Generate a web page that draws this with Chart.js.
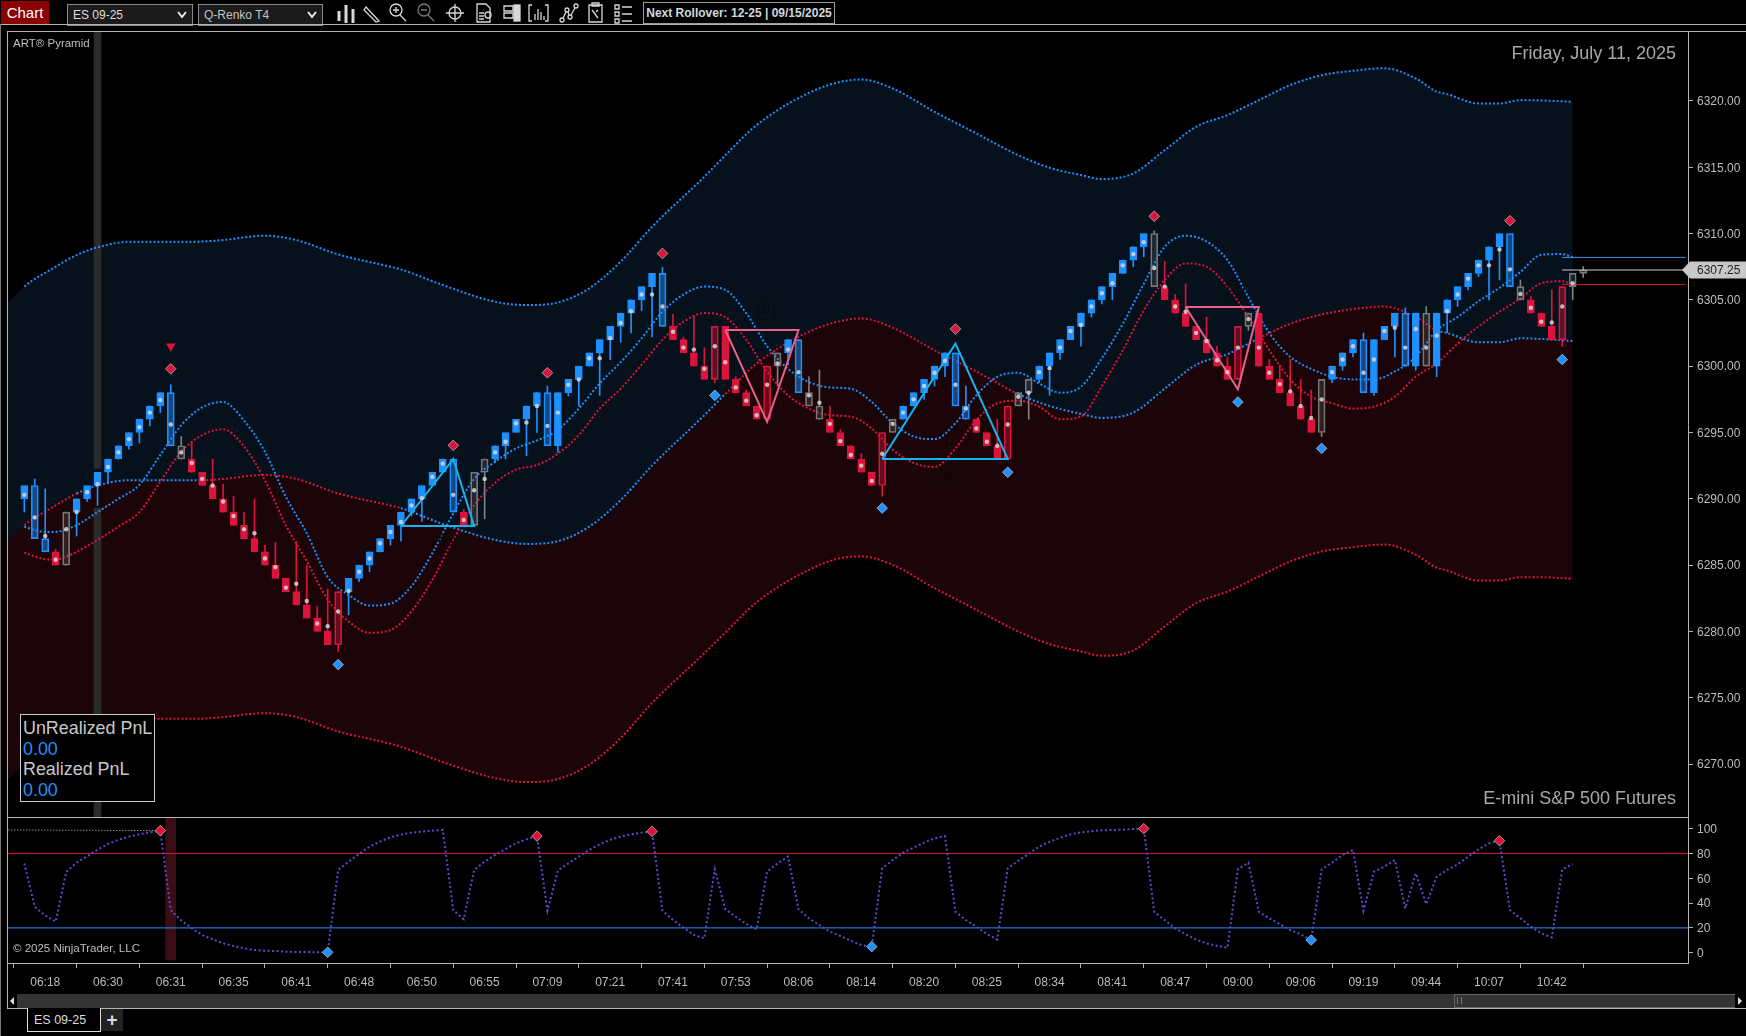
<!DOCTYPE html>
<html>
<head>
<meta charset="utf-8">
<title>ES 09-25</title>
<script src="https://cdn.jsdelivr.net/npm/chart.js@4/dist/chart.umd.js"></script>
<style>
  html, body { margin: 0; padding: 0; background: #000; width: 1746px; height: 1036px; overflow: hidden; }
  body, div { font-family: "Liberation Sans", Arial, sans-serif; color: #c4c4c4; }
  .abs { position: absolute; white-space: nowrap; }
  canvas { position: absolute; left: 0; display: block; }
  .line { position: absolute; background: #b4b4b4; }
  .combo { position: absolute; top: 4px; height: 20px; width: 123px; background: #1b1b1b; border: 1px solid #8a8a8a; font-size: 12px; line-height: 20px; padding-left: 5px; box-sizing: content-box; }
  .combo svg { position: absolute; right: 5px; top: 6px; }
</style>
</head>
<body>

<!-- toolbar -->
<div class="abs" style="left:1px;top:1px;width:48px;height:23px;background:#8b0000;color:#fff;font-size:15px;line-height:23px;text-align:center">Chart</div>
<div class="combo" style="left:67px;width:119px;color:#ddd">ES 09-25<svg width="10" height="8"><path d="M1 1 L5 6 L9 1" fill="none" stroke="#eee" stroke-width="2"/></svg></div>
<div class="combo" style="left:198px;width:118px">Q-Renko T4<svg width="10" height="8"><path d="M1 1 L5 6 L9 1" fill="none" stroke="#eee" stroke-width="2"/></svg></div>
<svg class="abs" style="left:330px;top:0" width="310" height="26" fill="none" stroke="#d8d8d8" stroke-width="1.3">
  <path d="M9 11v10M16 5v18M23 9v14" stroke-width="3"/>
  <path d="M36 7 L49 21 L46 22 L34 10 Z"/>
  <circle cx="66" cy="10" r="6"/><path d="M63 10h6M66 7v6M70 15l6 6"/>
  <g stroke="#777"><circle cx="94" cy="10" r="6"/><path d="M91 10h6M98 15l6 6"/></g>
  <circle cx="125" cy="13" r="6"/><path d="M125 4v18M116 13h18"/>
  <path d="M147 4h9l4 4v14h-13z M149 13h5M149 16h5M149 19h5"/><circle cx="158" cy="15" r="3"/>
  <path d="M174 6h9v5h-9zM174 13h9v5h-9z"/><rect x="184" y="5" width="6" height="16" fill="#d8d8d8"/>
  <path d="M202 5h-3v16h3M215 5h3v16h-3M205 20v-6M208 20v-11M211 20v-8M214 20v-4"/>
  <circle cx="232" cy="20" r="2"/><circle cx="237" cy="10" r="2"/><circle cx="240" cy="17" r="2"/><circle cx="246" cy="6" r="2"/><path d="M233 18l3-6M238 12l1 3M241 15l4-7"/>
  <path d="M259 5h13v17h-13zM262 3h7v3h-7zM262 10l6 8M268 10l-2 2"/>
  <path d="M285 5h4v4h-4zM285 12h4v4h-4zM285 19h4v4h-4zM292 7h10M292 14h10M292 21h10"/>
</svg>
<div class="abs" style="left:643px;top:2px;width:190px;height:20px;border:1px solid #9a9a9a;font-size:12px;font-weight:bold;line-height:20px;text-align:center;color:#cfd8dc">Next Rollover: 12-25 | 09/15/2025</div>
<div class="line" style="left:0;top:24px;width:1746px;height:1px"></div>
<div class="line" style="left:0;top:24px;width:1px;height:1012px;background:#777"></div>

<!-- charts -->
<canvas id="priceChart" width="1746" height="786" style="top:31px"></canvas>
<canvas id="oscChart" width="1746" height="177" style="top:817px"></canvas>

<!-- frame -->
<div class="line" style="left:7px;top:31px;width:1739px;height:1px"></div>
<div class="line" style="left:7px;top:31px;width:1px;height:977px"></div>
<div class="line" style="left:7px;top:817px;width:1682px;height:1px"></div>
<div class="line" style="left:7px;top:963px;width:1682px;height:1px"></div>

<!-- text on the price panel -->
<div class="abs" style="left:13px;top:37px;font-size:11.5px;color:#bdbdbd">ART® Pyramid</div>
<div class="abs" style="right:70px;top:43px;font-size:18px;color:#a8a8a8">Friday, July 11, 2025</div>
<div class="abs" style="right:70px;top:788px;font-size:18px;color:#a8a8a8">E-mini S&amp;P 500 Futures</div>
<div class="abs" style="left:20px;top:714px;width:131px;background:#000;border:1px solid #ccc;font-size:17.9px;line-height:20.6px;padding-left:2px;padding-top:3px;box-sizing:content-box;height:83px">
  <div style="color:#c8c8c8">UnRealized PnL</div>
  <div style="color:#1e90ff">0.00</div>
  <div style="color:#c8c8c8">Realized PnL</div>
  <div style="color:#1e90ff">0.00</div>
</div>
<div class="abs" style="left:13px;top:942px;font-size:11.5px;color:#bdbdbd">© 2025 NinjaTrader, LLC</div>

<!-- scrollbar and tabs -->
<div class="abs" style="left:8px;top:994px;width:1738px;height:14px;background:#333"></div>
<div class="abs" style="left:8px;top:994px;width:9px;height:14px;background:#000"></div>
<svg class="abs" style="left:10px;top:997px" width="6" height="8"><path d="M4 0L0 4L4 8Z" fill="#ddd"/></svg>
<div class="abs" style="left:1454px;top:994px;width:280px;height:12px;background:#333;border:1px solid #666"></div>
<div class="abs" style="left:1457px;top:997px;width:3px;height:7px;border-left:1px solid #777;border-right:1px solid #777"></div>
<div class="abs" style="left:1735px;top:994px;width:11px;height:14px;background:#000"></div>
<svg class="abs" style="left:1737px;top:997px" width="6" height="8"><path d="M1 0L5 4L1 8Z" fill="#ddd"/></svg>
<div class="line" style="left:7px;top:1008px;width:1739px;height:1px"></div>
<div class="abs" style="left:27px;top:1008px;width:66px;height:23px;background:#000;border:1px solid #ddd;border-top:none;font-size:12.5px;line-height:24px;padding-left:6px;color:#ddd">ES 09-25</div>
<div class="abs" style="left:101px;top:1009px;width:22px;height:22px;background:#222;color:#ddd;font-size:19px;font-weight:bold;line-height:21px;text-align:center">+</div>

<script>
// candles, one entry per brick, prices
const barTop = [
  6291,6291,6287,6286,6289,6290,6291,6292,6293,6294,
  6295,6296,6297,6298,6298,6294,6293,6292,6291,6290,
  6289,6288,6287,6286,6285,6284,6283,6282,6281,6280,
  6283,6284,6285,6286,6287,6288,6289,6290,6291,6292,
  6293,6293,6289,6292,6293,6294,6295,6296,6297,6298,
  6298,6298,6299,6300,6301,6302,6303,6304,6305,6306,
  6307,6307,6303,6302,6301,6300,6303,6303,6299,6298,
  6297,6300,6301,6302,6302,6298,6297,6296,6295,6294,
  6293,6292,6295,6296,6297,6298,6299,6300,6301,6301,
  6297,6296,6295,6294,6297,6298,6299,6300,6301,6302,
  6303,6304,6305,6306,6307,6308,6309,6310,6310,6306,
  6305,6304,6303,6302,6301,6300,6303,6304,6304,6300,
  6299,6298,6297,6296,6299,6300,6301,6302,6302,6302,
  6303,6304,6304,6304,6304,6304,6305,6306,6307,6308,
  6309,6310,6310,6306,6305,6304,6303,6306,6307,6307.25
];
const barBottom = [
  6290,6287,6286,6285,6285,6289,6290,6291,6292,6293,
  6294,6295,6296,6297,6294,6293,6292,6291,6290,6289,
  6288,6287,6286,6285,6284,6283,6282,6281,6280,6279,
  6279,6283,6284,6285,6286,6287,6288,6289,6290,6291,
  6292,6289,6288,6288,6292,6293,6294,6295,6296,6297,
  6294,6294,6298,6299,6300,6301,6302,6303,6304,6305,
  6306,6303,6302,6301,6300,6299,6299,6299,6298,6297,
  6296,6296,6300,6301,6298,6297,6296,6295,6294,6293,
  6292,6291,6291,6295,6296,6297,6298,6299,6300,6297,
  6296,6295,6294,6293,6293,6297,6298,6299,6300,6301,
  6302,6303,6304,6305,6306,6307,6308,6309,6306,6305,
  6304,6303,6302,6301,6300,6299,6299,6303,6300,6299,
  6298,6297,6296,6295,6295,6299,6300,6301,6298,6298,
  6302,6303,6300,6300,6300,6300,6304,6305,6306,6307,
  6308,6309,6306,6305,6304,6303,6302,6302,6306,6307
];
const wickHigh = [
  6291,6291.5,6290.75,6286.2,6289,6290,6291,6292,6293,6294,
  6295,6296,6297,6298,6298.6,6294.7,6294.3,6292,6293,6291.1,
  6290.2,6289,6290,6286.5,6286.7,6284,6286.8,6285,6281.9,6283.2,
  6283,6284,6285,6286,6287,6288,6289,6290,6291,6292,
  6293,6293,6289.2,6292,6293,6294,6295,6296,6297,6298,
  6298.5,6298,6299,6300,6301,6302,6303,6304,6305,6306,
  6307,6307.45,6303.9,6302.2,6303.8,6301.4,6303,6303,6299.2,6298.2,
  6297,6300,6301,6302,6302,6299.2,6299.7,6297,6295.2,6294,
  6293.4,6292,6295,6296,6297,6298,6299,6300,6301,6301,
  6298.5,6296,6295,6296,6297,6298,6299,6300,6301,6302,
  6303,6304,6305,6306,6307,6308,6309,6310,6310.2,6307.9,
  6305.4,6306.2,6303,6303.7,6301.5,6300.7,6303,6304,6304,6300.5,
  6300.1,6300.5,6299,6298.2,6299,6300,6301,6302,6302.5,6302,
  6303,6304,6304.4,6304,6304.5,6304,6305,6306,6307,6308,
  6309,6310,6310,6306.5,6305.25,6304,6305.75,6306,6307,6307.5
];
const wickLow = [
  6289,6287,6286,6285,6285,6287.2,6289.8,6289.5,6291.2,6293,
  6293.75,6294.2,6295.5,6296.5,6294,6293,6292,6291,6290,6289,
  6288,6287,6286,6285,6284,6283,6282,6281,6280,6279,
  6278.5,6281.25,6283.75,6284.5,6286,6286.5,6286.8,6288.7,6288.3,6291,
  6292,6289,6288,6288,6288.5,6292.75,6293,6295,6293.25,6295,
  6294,6293.5,6297.75,6297,6300,6297.8,6300.5,6301.8,6302.5,6304.2,
  6302.2,6303,6302,6301,6300,6299,6298.75,6299,6298,6297,
  6296,6296,6298.5,6300.1,6298,6297,6296,6295,6294,6293,
  6292,6291,6290.2,6295,6296,6297,6297.5,6298.5,6299.2,6297,
  6296,6295,6294,6293,6293,6297,6296,6298.75,6297.8,6300.5,
  6302,6301.5,6303.7,6304.7,6305,6307,6307.5,6308.25,6306,6305,
  6304,6303,6302,6301,6300,6299,6299,6302.7,6300,6299,
  6298,6297,6296,6295,6294.7,6298.75,6299.7,6300.7,6298,6297.8,
  6302,6300.7,6300,6299.7,6300,6299.2,6302.5,6304.5,6305.75,6306.75,
  6305,6306.5,6306,6305,6304,6303,6302,6301.5,6305,6306.7
];
// small white marker on each brick
const dotPrice = [
  6290.3,6288.6,6287.2,6285.4,6287.7,6289,6290.5,6291.1,6292.4,6293.5,
  6294.5,6295.4,6296.5,6297.45,6295.6,6293.5,6292.7,6291.5,6291,6289.8,
  6288.7,6287.7,6287.4,6285.5,6284.85,6283.3,6283.6,6282.3,6280.6,6280.4,
  6281.5,6283.05,6284.5,6285.5,6286.65,6287.5,6288.25,6289.5,6290.05,6291.65,
  6292.65,6290.3,6288.4,6290.65,6291.5,6293.5,6294.3,6295.7,6295.75,6297,
  6295.5,6296.5,6298.6,6299,6300.6,6300.6,6302.1,6303.25,6304.15,6305.4,
  6305.4,6304.5,6302.6,6301.4,6301.25,6299.8,6301.5,6300.3,6298.4,6297.4,
  6296.3,6298.6,6300.2,6301.25,6299.55,6297.8,6297.25,6295.65,6294.35,6293.3,
  6292.5,6291.35,6293.4,6295.65,6296.5,6297.5,6298.5,6299.5,6300.4,6298.6,
  6296.8,6295.3,6294.3,6294,6295.6,6297.7,6298,6299.55,6299.85,6301.4,
  6302.65,6303.1,6304.5,6305.5,6306.25,6307.6,6308.45,6309.35,6307.4,6306,
  6304.5,6304.1,6302.5,6301.9,6300.45,6299.55,6301.4,6303.55,6301.4,6299.5,
  6298.65,6298.1,6297,6296.1,6297.5,6299.55,6300.5,6301.5,6299.5,6300.5,
  6302.65,6302.9,6301.4,6302.8,6301.4,6302.3,6304.15,6305.4,6306.6,6307.6,
  6307.6,6308.8,6307.3,6305.45,6304.4,6303.35,6303.3,6304.5,6306.25,null
];
// u = up, U = up reversal, d = down, D = down reversal, g = neutral
const barKind = (
  'uUUdguuuuu' + 'uuuuUgdddd' + 'dddddddddd' + 'Duuuuuuuuu' + 'uUdgguuuuu' +
  'Uuuuuuuuuu' + 'uUddddDddd' + 'dDguUggddd' + 'ddDguuuuuU' + 'UdddDgguuu' +
  'uuuuuuuugd' + 'ddddddDgdd' + 'ddddguuuUu' + 'uuUuguuuuu' + 'uuUgdddDgg'
).split('');

// slow bands
const bandBars = [-1.56,0,3,5,7,10,13,16,17,19,23,26,30,35,36,40,45,48,51,54,57,60,65,67,70,75,78,80,83,87,91,95,98,101,103,106,109,112,115,118,121,124,127,130,133,135,136,139,141,143,146,148];
const bandUpper = [6304.74,6306,6307.5,6308.38,6308.96,6309.38,6309.38,6309.38,6309.4,6309.51,6309.84,6309.51,6308.43,6307.5,6307.3,6306.12,6304.86,6304.61,6304.81,6305.87,6307.88,6310.51,6314.28,6315.9,6318.18,6320.61,6321.44,6321.62,6320.94,6319.18,6317.55,6315.91,6314.96,6314.41,6314.11,6314.53,6316.29,6318.05,6318.93,6320.06,6321.19,6321.94,6322.27,6322.47,6321.69,6320.7,6320.51,6319.81,6319.81,6320.06,6320.01,6319.93];
const bandMid = [6286.8,6288,6289.5,6290.4,6291,6291.4,6291.4,6291.4,6291.4,6291.5,6291.8,6291.5,6290.4,6289.5,6289.3,6288.1,6286.9,6286.6,6286.8,6287.9,6289.9,6292.5,6296.3,6297.9,6300.2,6302.6,6303.4,6303.6,6302.9,6301.2,6299.6,6297.9,6297,6296.4,6296.1,6296.5,6298.3,6300.1,6300.9,6302.1,6303.2,6303.9,6304.3,6304.5,6303.7,6302.7,6302.5,6301.8,6301.8,6302.1,6302,6301.9];
const bandLower = [6268.8,6270,6271.5,6272.4,6272.96,6273.4,6273.41,6273.41,6273.42,6273.54,6273.84,6273.54,6272.46,6271.53,6271.3,6270.15,6268.94,6268.64,6268.87,6269.95,6271.96,6274.6,6278.36,6279.9,6282.2,6284.64,6285.52,6285.65,6285.02,6283.26,6281.63,6280,6279.04,6278.49,6278.16,6278.56,6280.37,6282.13,6283,6284.14,6285.27,6286.02,6286.35,6286.55,6285.77,6284.8,6284.59,6283.84,6283.84,6284.09,6284.06,6283.96];
// the mid band flips colour at these bars, starting red
const midFlipBars = [0,5,17,36,67,95,118,135];

// fast curves
const fastBars = [0,1,2,3,4,5,7,9,11,13,15,17,19,21,23,25,27,29,31,33,35,37,39,41,43,45,47,49,51,53,55,57,59,61,63,65,67,69,71,73,75,77,79,81,83,85,87,89,91,93,95,97,99,101,103,105,107,109,111,113,115,117,119,121,123,125,127,129,131,133,135,137,139,141,143,145,147,148];
const fastBlue = [6287.9,6287.65,6287.5,6287.5,6287.7,6288,6289,6290,6291.05,6293.3,6295.55,6296.9,6297.3,6295.9,6293.55,6290.15,6287.4,6284.1,6282.75,6281.95,6282.1,6283.4,6285.9,6288.9,6291.5,6292.8,6293.8,6294.4,6295.2,6296.8,6298.7,6300.3,6302.1,6304.1,6305.4,6306,6305.75,6304,6301.5,6299.8,6298.8,6298.4,6298.3,6297.3,6295.7,6294.7,6294.5,6295.7,6297.8,6299.2,6299.5,6298.7,6298,6298.45,6300.6,6303.2,6306.2,6309,6309.84,6309.4,6308,6305.2,6302.5,6300.7,6299.8,6299.2,6299,6299,6299.6,6300.7,6302.7,6303.7,6304.9,6305.9,6307.1,6308.4,6308.45,6308.2];
const fastRed = [6285.95,6285.65,6285.45,6285.4,6285.65,6286,6286.9,6287.9,6289,6291.3,6293.55,6294.8,6295.25,6293.95,6291.4,6288,6285.3,6282.4,6280.75,6279.9,6280.1,6281.5,6283.9,6286.9,6289.5,6291.2,6292.2,6292.55,6293.4,6294.8,6296.8,6298.3,6300.1,6302,6303.35,6304,6303.7,6302,6299.6,6297.8,6296.8,6296.3,6296.2,6295.3,6293.7,6292.7,6292.4,6293.8,6295.95,6297.2,6297.4,6296.95,6296,6296.2,6298.5,6301.2,6304.2,6306.5,6307.75,6307.5,6306,6303.7,6301.2,6299,6297.7,6297.2,6296.8,6296.95,6297.7,6299.2,6300.2,6301.7,6303,6304.1,6305.1,6306.25,6306.4,6306.2];

// pattern triangles, bar then price
const cyanTriBars = [[36,41,43,36],[82,89,94,82]];
const cyanTriPrices = [[6287.95,6293,6287.95,6287.95],[6293,6301.7,6293,6293]];
const pinkTriBars = [[67,71,74,67],[111,116,118,111]];
const pinkTriPrices = [[6302.73,6295.8,6302.73,6302.73],[6304.46,6298.25,6304.46,6304.46]];

// signal diamonds on price
const redSignalBars = [14,41,50,61,89,108,142];
const redSignalPrices = [6299.8,6294.03,6299.5,6308.5,6302.8,6311.3,6310.97];
const blueSignalBars = [30,66,82,94,116,124,147];
const blueSignalPrices = [6277.5,6297.8,6289.3,6292,6297.3,6293.8,6300.5];
const arrowBars = [14];
const arrowPrices = [6301.5];

// the faint labels next to the patterns
const markBars = [40.9,70.9,88.8,115.8];
const markPrices = [6286.6,6304.1,6291.8,6305.8];
const markLabels = ['MP','P','MP','P'];

// price levels at the right
const levelBars = [147,158.8];
const levelAsk = 6308.2;
const levelLast = 6307.25;
const levelBid = 6306.16;

// grey session marker on the price panel, red one on the oscillator
const sessionBar = 7;
const sessionRanges = [[6292.3,6325.27],[6266,6289.3]];
const oscSessionBar = 14;
const oscSessionRange = [-5.9,109.4];

const priceTicks = [6270,6275,6280,6285,6290,6295,6300,6305,6310,6315,6320];
const oscTicks = [0,20,40,60,80,100];
const timeTickBars = [2,8,14,20,26,32,38,44,50,56,62,68,74,80,86,92,98,104,110,116,122,128,134,140,146];
const timeTickLabels = ['06:18','06:30','06:31','06:35','06:41','06:48','06:50','06:55','07:09','07:21','07:41','07:53','08:06','08:14','08:20','08:25','08:34','08:41','08:47','09:00','09:06','09:19','09:44','10:07','10:42'];

// oscillator, one value per bar
const oscValues = [
  72,37,30,25,65,72.6,77.5,83,87.7,91,
  93.6,95.5,97,98.4,34.4,26,19.7,14.3,10.8,7.6,
  5.4,3.5,2.2,1.6,1.4,0.8,0.6,0.6,0.3,0.3,
  66.7,73.4,79.6,85.5,89.6,93,95.2,96.8,97.6,98.4,
  99,34.4,27,66.7,73.4,78.8,83.6,88.2,91.4,94,
  33.9,66.2,72,77.5,83,87.4,91,93.6,95.5,96.8,
  97.8,33.9,26.4,20.2,14.3,11.6,67.2,35,29,23.2,
  18.9,65.4,72,77.5,35,27.7,22.3,17,13.5,9.7,
  6.2,4.9,68,74.7,80.6,84.7,88.7,92.2,94,33,
  26.3,21,15,10.7,68,74,79.6,85.5,89.5,92.7,
  95.4,97,98,98.7,98.9,99.2,99.7,100,33,26.3,
  19.6,14.8,10.7,7.5,5.6,4,67.2,72.6,33,27.7,
  23,18.3,14.8,10.2,67.2,72.6,78.8,82.8,33.9,65.3,
  69.4,74.7,35.8,64,39.2,61.3,66.7,71.2,77.4,83.3,
  88.2,90.3,34.4,27.7,21,15.6,12.4,67.2,71.5
];
const oscHighBars = [13,49,60,107,141];
const oscLowBars = [29,81,123];
const oscPrevBars = [-1.56,13];
const oscPrevValues = [99,98.4];
const oscUpperLevel = 80;
const oscLowerLevel = 20;

// colours
const BLUE = '#1e90ff';
const RED = '#dc143c';
const bodyFill = { u: BLUE, U: 'rgba(30,144,255,0.45)', d: RED, D: 'rgba(220,20,60,0.38)', g: 'rgba(128,128,128,0.22)' };
const bodyLine = { u: BLUE, U: BLUE, d: RED, D: RED, g: '#777777' };
const wickColor = { u: BLUE, U: BLUE, d: RED, D: RED, g: '#808080' };

const zip = (xs, ys) => xs.map((x, i) => ({ x: x, y: ys[i] }));
const bars = barTop.map((_, i) => i);

function midColor(x) {
  let flips = 0;
  midFlipBars.forEach(b => { if (x >= b) flips++; });
  return flips % 2 === 1 ? RED : BLUE;
}

Chart.defaults.font.family = '"Liberation Sans", Arial, sans-serif';
Chart.defaults.font.size = 12;
Chart.defaults.color = '#bdbdbd';

const xRange = { min: -1.558, max: 159.02 };

// keeps the plot area exactly where the panel frame is
function fixedY(ticks) {
  return {
    afterBuildTicks: s => { s.ticks = ticks.map(v => ({ value: v })); },
    afterFit: s => { s.width = 58; s.paddingTop = 0; s.paddingBottom = 0; }
  };
}

const baseOptions = {
  responsive: false,
  animation: false,
  devicePixelRatio: 1,
  layout: { autoPadding: false, padding: { left: 8, right: 0, top: 0, bottom: 0 } },
  plugins: { legend: { display: false }, tooltip: { enabled: false } }
};

const lineSet = (data, color, extra) => Object.assign({
  type: 'line', data: data, borderColor: color, borderWidth: 2, borderDash: [2, 2],
  pointRadius: 0, tension: 0, fill: false
}, extra);

const pointSet = (data, color, style, radius, extra) => Object.assign({
  type: 'line', data: data, showLine: false, pointStyle: style, pointRadius: radius,
  pointBackgroundColor: color, pointBorderColor: '#c8c8c8', pointBorderWidth: 0.7, order: 2
}, extra);

// cloud only, drawn without a border so the fill has no seams
const cloudSet = (data, color, order) => ({
  type: 'line', data: data, borderWidth: 0, pointRadius: 0, cubicInterpolationMode: 'monotone',
  fill: color ? '+1' : false, backgroundColor: color || 'transparent', order: order
});

// wick piece outside the body, so hollow bodies stay clean
const wickSet = data => ({
  type: 'bar', data: data, backgroundColor: c => wickColor[barKind[c.dataIndex]],
  barThickness: 1, grouped: false, order: 21
});

// faint pattern labels and the last price flag
const priceExtras = {
  id: 'priceExtras',
  afterDatasetsDraw(chart) {
    const { ctx, scales } = chart;
    ctx.save();
    ctx.font = '13px "Liberation Sans", Arial, sans-serif';
    ctx.textAlign = 'center';
    ctx.textBaseline = 'middle';
    markLabels.forEach((label, i) => {
      const x = scales.x.getPixelForValue(markBars[i]);
      const y = scales.y.getPixelForValue(markPrices[i]);
      const w = label.length === 1 ? 16 : 25;
      ctx.strokeStyle = '#0a0a0a';
      ctx.strokeRect(x - w / 2, y - 8, w, 16);
      ctx.fillStyle = '#0a0a0a';
      ctx.fillText(label, x, y);
    });
    const fy = scales.y.getPixelForValue(levelLast);
    ctx.fillStyle = '#c8c8c8';
    ctx.beginPath();
    ctx.moveTo(1682, fy);
    ctx.lineTo(1690, fy - 8.5);
    ctx.lineTo(1746, fy - 8.5);
    ctx.lineTo(1746, fy + 8.5);
    ctx.lineTo(1690, fy + 8.5);
    ctx.closePath();
    ctx.fill();
    ctx.fillStyle = '#222';
    ctx.font = '12px "Liberation Sans", Arial, sans-serif';
    ctx.textAlign = 'left';
    ctx.fillText(levelLast.toFixed(2), 1697, fy + 0.5);
    ctx.restore();
  }
};

const triangleSets = [];
cyanTriBars.forEach((b, i) => triangleSets.push({ type: 'line', data: zip(b, cyanTriPrices[i]), borderColor: '#12b5ee', borderWidth: 2, pointRadius: 0, tension: 0, fill: false, order: 3 }));
pinkTriBars.forEach((b, i) => triangleSets.push({ type: 'line', data: zip(b, pinkTriPrices[i]), borderColor: '#e7618d', borderWidth: 2, pointRadius: 0, tension: 0, fill: false, order: 3 }));

new Chart(document.getElementById('priceChart'), {
  data: {
    datasets: [
      cloudSet(zip(bandBars, bandUpper), '#06111c', 100),
      cloudSet(zip(bandBars, bandMid), '#1c0508', 99),
      cloudSet(zip(bandBars, bandLower), null, 98),
      lineSet(zip(bandBars, bandUpper), BLUE, {
        cubicInterpolationMode: 'monotone', order: 40,
        segment: { borderColor: c => c.p0.parsed.x < 0 ? 'transparent' : BLUE }
      }),
      lineSet(zip(bandBars, bandMid), RED, {
        cubicInterpolationMode: 'monotone', order: 40,
        segment: { borderColor: c => c.p0.parsed.x < 0 ? 'transparent' : midColor(c.p0.parsed.x) }
      }),
      lineSet(zip(bandBars, bandLower), RED, {
        cubicInterpolationMode: 'monotone', order: 40,
        segment: { borderColor: c => c.p0.parsed.x < 0 ? 'transparent' : RED }
      }),
      { type: 'bar', data: sessionRanges.map(r => ({ x: sessionBar, y: r })), backgroundColor: '#2a2a2a', barThickness: 7, grouped: false, order: 90 },
      lineSet(zip(fastBars, fastBlue), BLUE, { cubicInterpolationMode: 'monotone', order: 30 }),
      lineSet(zip(fastBars, fastRed), RED, { cubicInterpolationMode: 'monotone', order: 30 }),
      wickSet(bars.map(i => ({ x: i, y: [barTop[i], wickHigh[i]] }))),
      wickSet(bars.map(i => ({ x: i, y: [wickLow[i], barBottom[i]] }))),
      {
        type: 'bar', data: bars.map(i => ({ x: i, y: [barBottom[i], barTop[i]] })),
        backgroundColor: c => bodyFill[barKind[c.dataIndex]],
        borderColor: c => bodyLine[barKind[c.dataIndex]],
        borderWidth: 1, borderSkipped: false, barThickness: 7, grouped: false, order: 20
      },
      ...triangleSets,
      { type: 'line', data: zip(levelBars, [levelAsk, levelAsk]), borderColor: '#3d8fe0', borderWidth: 1, pointRadius: 0, order: 4 },
      { type: 'line', data: zip(levelBars, [levelLast, levelLast]), borderColor: '#cfcfcf', borderWidth: 1, pointRadius: 0, order: 4 },
      { type: 'line', data: zip(levelBars, [levelBid, levelBid]), borderColor: RED, borderWidth: 1, pointRadius: 0, order: 4 },
      pointSet(zip(bars, dotPrice), 'rgba(215,215,215,0.85)', 'circle', 2.2, { pointBorderWidth: 0, order: 1 }),
      pointSet(zip(redSignalBars, redSignalPrices), RED, 'rectRot', 5.3),
      pointSet(zip(blueSignalBars, blueSignalPrices), BLUE, 'rectRot', 5.3),
      pointSet(zip(arrowBars, arrowPrices), RED, 'triangle', 5.5, { pointRotation: 180, pointBorderWidth: 0 })
    ]
  },
  options: Object.assign({}, baseOptions, {
    scales: {
      x: Object.assign({ type: 'linear', display: false, offset: false }, xRange),
      y: Object.assign({
        type: 'linear', position: 'right', min: 6266.01, max: 6325.27,
        grid: { drawOnChartArea: false, tickLength: 5, tickColor: '#b4b4b4' },
        border: { color: '#b4b4b4' },
        ticks: { padding: 4, labelOffset: 1, callback: v => v.toFixed(2) }
      }, fixedY(priceTicks))
    }
  }),
  plugins: [priceExtras]
});

new Chart(document.getElementById('oscChart'), {
  data: {
    datasets: [
      { type: 'bar', data: [{ x: oscSessionBar, y: oscSessionRange }], backgroundColor: '#3b0d16', barThickness: 10, grouped: false, order: 90 },
      { type: 'line', data: zip([xRange.min, xRange.max], [oscUpperLevel, oscUpperLevel]), borderColor: RED, borderWidth: 1, pointRadius: 0, order: 20 },
      { type: 'line', data: zip([xRange.min, xRange.max], [oscLowerLevel, oscLowerLevel]), borderColor: BLUE, borderWidth: 1, pointRadius: 0, order: 20 },
      lineSet(zip(oscPrevBars, oscPrevValues), '#8a8a8a', { borderWidth: 1, borderDash: [1.5, 1.5], order: 15 }),
      lineSet(zip(bars, oscValues), '#5a4ccf', { borderWidth: 2, borderDash: [2, 2.5], order: 10 }),
      pointSet(oscHighBars.map(b => ({ x: b, y: oscValues[b] })), RED, 'rectRot', 5.3),
      pointSet(oscLowBars.map(b => ({ x: b, y: oscValues[b] })), BLUE, 'rectRot', 5.3)
    ]
  },
  options: Object.assign({}, baseOptions, {
    scales: {
      x: Object.assign({
        type: 'linear', position: 'bottom', offset: false,
        grid: { drawOnChartArea: false, tickLength: 5, tickColor: '#b4b4b4' },
        border: { color: '#b4b4b4' },
        ticks: { padding: 7, autoSkip: false, maxRotation: 0, callback: (v, i) => timeTickLabels[i] },
        afterBuildTicks: s => { s.ticks = timeTickBars.map(v => ({ value: v })); },
        afterFit: s => { s.height = 31; s.paddingLeft = 0; s.paddingRight = 0; }
      }, xRange),
      y: Object.assign({
        type: 'linear', position: 'right', min: -8.3, max: 109.4,
        grid: { drawOnChartArea: false, tickLength: 5, tickColor: '#b4b4b4' },
        border: { color: '#b4b4b4' },
        ticks: { padding: 4, labelOffset: 1 }
      }, fixedY(oscTicks))
    }
  })
});
</script>
</body>
</html>
